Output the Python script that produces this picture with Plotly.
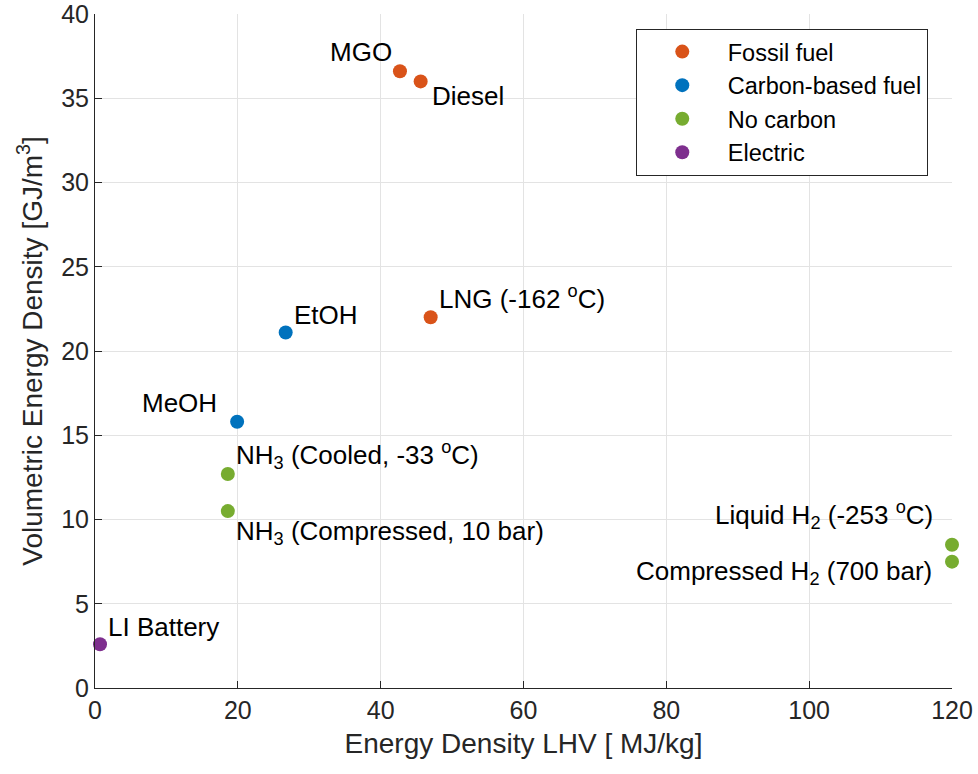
import plotly.graph_objects as go

# Data
groups = ["Fossil fuel", "Carbon-based fuel", "No carbon", "Electric"]
colors = ["#D95319", "#0072BD", "#77AC30", "#7E2F8E"]

fossil_names = ["MGO", "Diesel", "LNG (-162 <sup>o</sup>C)"]
fossil_x = [42.7, 45.6, 47.0]
fossil_y = [36.6, 36.0, 22.0]

carbon_names = ["EtOH", "MeOH"]
carbon_x = [26.7, 19.9]
carbon_y = [21.1, 15.8]

nocarbon_names = ["NH<sub>3</sub> (Cooled, -33 <sup>o</sup>C)",
                  "NH<sub>3</sub> (Compressed, 10 bar)",
                  "Liquid H<sub>2</sub> (-253 <sup>o</sup>C)",
                  "Compressed H<sub>2</sub> (700 bar)"]
nocarbon_x = [18.6, 18.6, 120.0, 120.0]
nocarbon_y = [12.7, 10.5, 8.5, 7.5]

electric_names = ["LI Battery"]
electric_x = [0.7]
electric_y = [2.6]

# label placement (anchor, xshift, yshift) per point
label_style = {
    "MGO": ("right", -6, 19),
    "Diesel": ("left", 9, -15),
    "LNG (-162 <sup>o</sup>C)": ("left", 6, 20),
    "EtOH": ("left", 6, 17),
    "MeOH": ("right", -18, 19),
    "NH<sub>3</sub> (Cooled, -33 <sup>o</sup>C)": ("left", 6, 19),
    "NH<sub>3</sub> (Compressed, 10 bar)": ("left", 6, -21),
    "Liquid H<sub>2</sub> (-253 <sup>o</sup>C)": ("right", -17, 30),
    "Compressed H<sub>2</sub> (700 bar)": ("right", -18, -11),
    "LI Battery": ("left", 6, 17),
}

series = [
    (fossil_names, fossil_x, fossil_y),
    (carbon_names, carbon_x, carbon_y),
    (nocarbon_names, nocarbon_x, nocarbon_y),
    (electric_names, electric_x, electric_y),
]

FONT = "Liberation Sans, Arial, sans-serif"
fig = go.Figure()
annotations = []
for g, c, (names, xs, ys) in zip(groups, colors, series):
    fig.add_trace(go.Scatter(x=xs, y=ys, mode="markers", name=g,
                             marker=dict(color=c, size=14, line=dict(width=0)),
                             cliponaxis=False))
    for n, x, y in zip(names, xs, ys):
        anc, xs_, ys_ = label_style[n]
        annotations.append(dict(x=x, y=y, text=n, showarrow=False, xanchor=anc,
                                yanchor="middle", xshift=xs_, yshift=ys_,
                                font=dict(family=FONT, size=26, color="#000000")))

axis_common = dict(showline=True, linecolor="#262626", linewidth=1, mirror=False,
                   ticks="inside", ticklen=7, tickcolor="#262626",
                   showgrid=True, gridcolor="#e3e3e3", gridwidth=1, zeroline=False,
                   automargin=False, ticklabeloverflow="allow",
                   tickfont=dict(family=FONT, size=25, color="#262626"))

fig.update_layout(
    width=978, height=774,
    margin=dict(l=95, r=26, t=14, b=86),
    paper_bgcolor="white", plot_bgcolor="white",
    font=dict(family=FONT, size=25, color="#262626"),
    xaxis=dict(range=[0, 120], tickvals=[0, 20, 40, 60, 80, 100, 120],
               title=dict(text="Energy Density LHV [ MJ/kg]", font=dict(size=28), standoff=10),
               **axis_common),
    yaxis=dict(range=[0, 40], tickvals=[0, 5, 10, 15, 20, 25, 30, 35, 40],
               title=dict(text="Volumetric Energy Density [GJ/m<sup>3</sup>]", font=dict(size=28), standoff=10),
               **axis_common),
    legend=dict(x=0.631, y=0.978, xanchor="left", yanchor="top",
                bgcolor="white", bordercolor="#262626", borderwidth=1,
                font=dict(family=FONT, size=23.5, color="#000000"),
                itemwidth=81, tracegroupgap=0),
    annotations=annotations,
    showlegend=True,
)

fig.write_html("out.html")
